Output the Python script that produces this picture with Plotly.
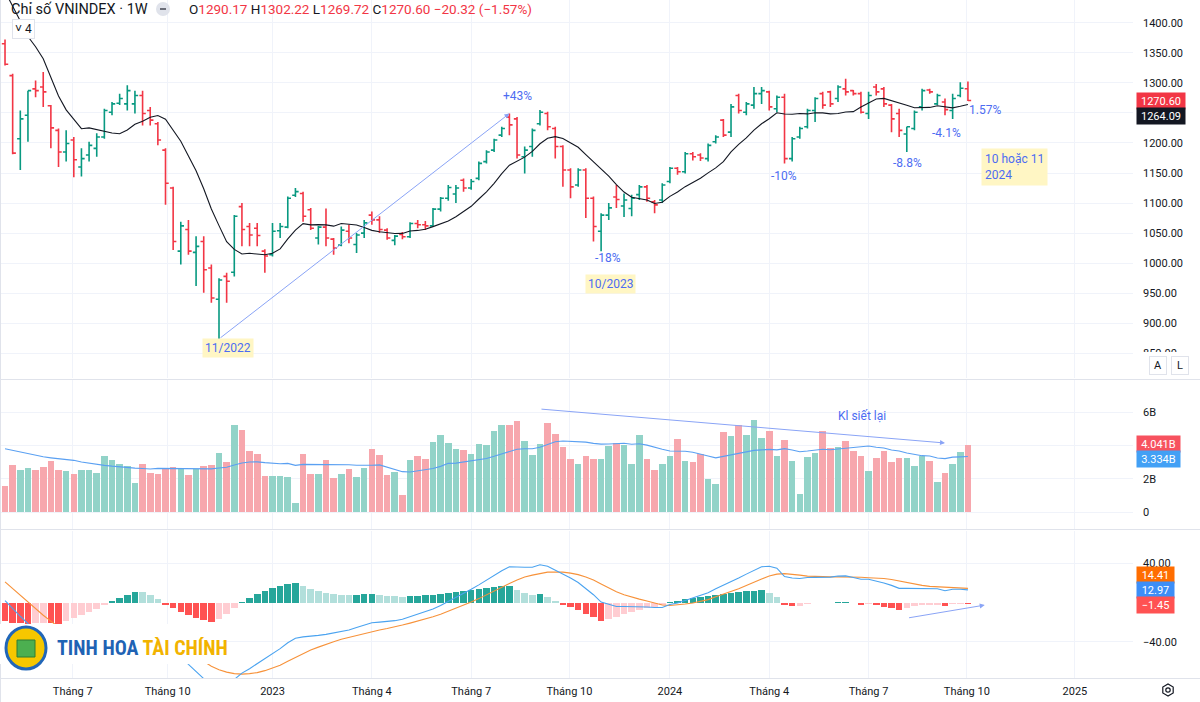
import math
import pandas as pd
import plotly.graph_objects as go

# ---------------- data ----------------
week_start = "2022-05-02"

opens = [1365, 1312, 1207, 1246, 1290, 1293, 1262, 1221, 1185, 1205,
         1160, 1180, 1191, 1210, 1251, 1266, 1265, 1265, 1279, 1254,
         1232, 1188, 1125, 1020, 1056, 1018, 1036, 992, 940, 978,
         985, 1094, 1061, 1058, 1020, 1014, 1054, 1060, 1113, 1116,
         1089, 1042, 1060, 1040, 1030, 1053, 1031, 1050, 1080, 1072,
         1055, 1038, 1048, 1044, 1066, 1064, 1062, 1090, 1108, 1115,
         1138, 1125, 1141, 1169, 1188, 1213, 1243, 1240, 1177, 1194,
         1232, 1249, 1224, 1194, 1155, 1130, 1155, 1108, 1053, 1080,
         1110, 1095, 1091, 1114, 1127, 1102, 1105, 1136, 1158, 1152,
         1182, 1180, 1174, 1202, 1238, 1218, 1279, 1251, 1263, 1282,
         1285, 1257, 1276, 1174, 1210, 1227, 1254, 1282, 1285, 1274,
         1290, 1287, 1282, 1249, 1293, 1290, 1263, 1249, 1215, 1224,
         1260, 1288, 1265, 1268, 1254, 1279, 1290.17]
highs = [1372, 1315, 1254, 1287, 1304, 1318, 1263, 1224, 1221, 1210,
         1191, 1202, 1216, 1257, 1268, 1282, 1296, 1287, 1287, 1260,
         1235, 1191, 1127, 1069, 1072, 1045, 1045, 998, 975, 984,
         1080, 1100, 1067, 1067, 1023, 1067, 1067, 1111, 1125, 1119,
         1092, 1062, 1091, 1042, 1061, 1064, 1050, 1072, 1086, 1078,
         1058, 1047, 1052, 1068, 1072, 1070, 1092, 1110, 1130, 1130,
         1141, 1140, 1169, 1188, 1207, 1227, 1249, 1243, 1194, 1224,
         1255, 1252, 1227, 1196, 1158, 1158, 1158, 1111, 1083, 1100,
         1130, 1116, 1114, 1130, 1130, 1105, 1133, 1160, 1160, 1185,
         1185, 1183, 1199, 1213, 1240, 1265, 1282, 1268, 1293, 1293,
         1287, 1279, 1282, 1210, 1227, 1257, 1276, 1285, 1287, 1296,
         1307, 1288, 1285, 1285, 1298, 1293, 1265, 1257, 1227, 1254,
         1290, 1290, 1282, 1274, 1282, 1301, 1302.22]
lows = [1329, 1181, 1155, 1202, 1276, 1260, 1191, 1160, 1169, 1143,
        1144, 1169, 1177, 1207, 1246, 1263, 1254, 1249, 1229, 1229,
        1196, 1097, 1022, 998, 1014, 962, 951, 934, 874, 934,
        978, 1028, 1028, 1028, 984, 1011, 1042, 1058, 1110, 1069,
        1055, 1031, 1028, 1014, 1028, 1033, 1017, 1042, 1064, 1050,
        1039, 1030, 1040, 1042, 1058, 1055, 1060, 1086, 1104, 1100,
        1119, 1122, 1138, 1166, 1185, 1210, 1213, 1174, 1149, 1177,
        1229, 1221, 1174, 1127, 1108, 1127, 1075, 1036, 1020, 1072,
        1092, 1077, 1078, 1105, 1102, 1083, 1100, 1133, 1147, 1149,
        1171, 1170, 1169, 1199, 1210, 1210, 1249, 1246, 1257, 1265,
        1254, 1251, 1166, 1169, 1207, 1224, 1235, 1257, 1260, 1268,
        1279, 1279, 1249, 1240, 1279, 1260, 1218, 1210, 1185, 1221,
        1254, 1282, 1263, 1246, 1240, 1276, 1269.72]
closes = [1331, 1183, 1240, 1287, 1287, 1285, 1225, 1185, 1199, 1172,
          1174, 1196, 1210, 1254, 1265, 1274, 1287, 1279, 1249, 1238,
          1205, 1133, 1036, 1062, 1020, 1028, 989, 942, 972, 970,
          1078, 1056, 1047, 1046, 1012, 1053, 1061, 1108, 1119, 1078,
          1058, 1060, 1042, 1025, 1055, 1042, 1047, 1067, 1072, 1056,
          1042, 1045, 1044, 1066, 1064, 1062, 1090, 1108, 1126, 1125,
          1125, 1136, 1166, 1185, 1205, 1224, 1230, 1180, 1188, 1221,
          1251, 1227, 1194, 1155, 1127, 1155, 1108, 1061, 1080, 1092,
          1106, 1105, 1108, 1127, 1108, 1097, 1130, 1158, 1152, 1182,
          1177, 1175, 1196, 1210, 1213, 1260, 1254, 1265, 1282, 1287,
          1260, 1276, 1174, 1207, 1224, 1254, 1274, 1263, 1265, 1293,
          1285, 1282, 1251, 1279, 1285, 1265, 1240, 1221, 1227, 1251,
          1287, 1285, 1279, 1255.4, 1274, 1290.92, 1270.60]

# weekly volume, billions of shares
volumes_b = [1.56, 2.85, 2.55, 2.67, 2.51, 2.71, 3.05, 2.55, 2.47, 2.26,
             2.51, 2.51, 2.34, 3.35, 3.11, 2.91, 2.75, 1.72, 2.87, 2.36,
             2.26, 2.67, 2.71, 2.61, 2.22, 2.61, 2.75, 2.81, 3.55, 3.01,
             5.21, 4.91, 3.65, 3.47, 2.18, 2.18, 2.18, 2.12, 0.56, 3.51,
             2.30, 2.26, 3.11, 2.06, 2.30, 2.57, 2.12, 2.65, 3.77, 3.41,
             2.22, 2.42, 1.02, 3.11, 3.35, 3.19, 4.19, 4.65, 4.17, 3.77,
             3.75, 3.47, 4.11, 4.01, 4.87, 5.21, 5.21, 5.47, 4.25, 3.41,
             4.11, 5.37, 4.67, 3.91, 3.19, 2.89, 3.35, 3.19, 3.19, 3.95,
             4.17, 4.01, 2.89, 4.61, 3.19, 2.51, 2.91, 3.35, 4.39, 3.05,
             3.01, 3.51, 1.98, 1.66, 4.83, 4.55, 5.25, 4.61, 5.55, 4.47,
             4.87, 3.39, 4.31, 3.05, 1.08, 3.31, 3.55, 4.85, 3.85, 3.91,
             4.25, 3.67, 3.35, 2.47, 3.27, 3.65, 2.99, 3.27, 3.23, 2.79,
             3.35, 3.05, 1.81, 2.36, 2.91, 3.61, 4.041]

# moving-average values visible before enough bars exist
price_ma_lead = [1452, 1428, 1403, 1377, 1360, 1340, 1310, 1278, 1255]
vol_ma_lead = [3.80, 3.70, 3.60, 3.50, 3.40, 3.31, 3.25, 3.20, 3.15, 3.10,
               3.00, 2.92, 2.85, 2.80, 2.75, 2.70, 2.66, 2.63, 2.61]

macd_signal = [21, 14, 7, 0, -7, -13, -19, -25, -30, -34,
               -37, -39.5, -41, -42, -42, -41.5, -40.5, -39, -37.5, -36.5,
               -36.5, -38, -41, -45, -50, -55, -60, -65, -68.5, -71,
               -72.5, -73, -72.5, -71.5, -69.5, -67, -64, -60, -56, -52,
               -48.5, -45.5, -42.5, -40, -37.5, -35.5, -33.5, -31.5, -29.6, -28,
               -26.5, -25, -23, -21, -19, -17, -14.5, -12, -9, -6,
               -3, 0.5, 4, 8, 12, 16, 19.5, 23, 26, 28,
               29.5, 31, 31.2, 31, 30, 28.5, 26, 23, 19, 15,
               11, 8, 5.5, 3.5, 1.5, -0.5, -2.5, -3, -2.5, -1.5,
               -0.5, 1, 3, 6, 8.5, 11, 14, 17.5, 21, 24,
               27, 29, 29.5, 29, 28, 27, 26.5, 26.3, 26.2, 26.2,
               26.2, 26, 25.8, 25.3, 25, 24.5, 23.5, 22, 20, 18.5,
               17.5, 16.5, 16, 15.5, 15, 14.6, 14.414]
macd_hist = [-19, -20.5, -21, -21.5, -21, -20.5, -21, -21.5, -19, -16,
             -13, -10, -7, -3, 2, 5, 8, 11, 10.5, 8,
             4, -2, -6, -10, -13, -15.5, -18, -20, -17, -12,
             -6, 1, 5, 9, 12, 15, 17, 19, 19.5, 17,
             14, 12, 10, 9, 8, 7.5, 8, 8.5, 9, 8,
             7, 6.5, 6, 6.5, 7, 7.5, 8, 9, 10, 11,
             12, 13, 14, 15, 16, 16.5, 17, 13, 10, 8,
             9, 6, 2, -2, -5, -8, -12, -15, -18.5, -17,
             -15, -12, -9.5, -7.5, -6, -4.5, -2.5, 1, 2, 3.5,
             5, 6, 7, 8, 9, 10, 11, 11.5, 12, 12.5,
             10, 6, -3, -4, -3.5, -1.5, -0.8, -0.5, -0.3, 0.8,
             1, -0.5, -2, -1.5, -3, -4.5, -6, -7.5, -5.5, -4,
             -3, -2.5, -2, -3.5, -1.5, -1, -1.448]

tick_dates = ["2022-07-03", "2022-09-28", "2023-01-02", "2023-04-03", "2023-07-03",
              "2023-10-01", "2024-01-01", "2024-04-01", "2024-07-01", "2024-09-29",
              "2025-01-06"]
tick_labels = ["Tháng 7", "Tháng 10", "2023", "Tháng 4", "Tháng 7", "Tháng 10",
               "2024", "Tháng 4", "Tháng 7", "Tháng 10", "2025"]

price_ticks = [850, 900, 950, 1000, 1050, 1100, 1150, 1200, 1250, 1300, 1350, 1400]
price_hidden_ticks = [1250]          # label sits under the price badges
vol_ticks = [0, 2, 4, 6]
vol_tick_labels = ["0", "2B", "", "6B"]  # 4B sits under the volume badges
macd_ticks = [-40, 40]
macd_tick_labels = ["\u221240.00", "40.00"]

# ---------------- derived series ----------------
dates = pd.date_range(week_start, periods=len(closes), freq="7D")
price_ma = pd.Series(closes).rolling(10).mean()
price_ma.iloc[:len(price_ma_lead)] = price_ma_lead
vol_ma = pd.Series(volumes_b).rolling(20).mean()
vol_ma.iloc[:len(vol_ma_lead)] = vol_ma_lead
macd_line = [s + h for s, h in zip(macd_signal, macd_hist)]

UP, DN = "#089981", "#f23645"
vol_colors = ["#92d3c8" if c >= o else "#f7a7ad" for o, c in zip(opens, closes)]
hist_colors = []
for k, h in enumerate(macd_hist):
    prev = macd_hist[k - 1] if k > 0 else h
    if h >= 0:
        hist_colors.append("#26a69a" if h > prev or k == 0 else "#b2dfdb")
    else:
        hist_colors.append("#ffcdd2" if h > prev else "#ff5252")

DAY_MS = 86400000
bar_w = 7 * DAY_MS * 0.86
t0 = pd.Timestamp(week_start)


def bx(idx):
    return t0 + pd.Timedelta(days=7 * idx)


# plot geometry helpers (paper coords)
PW, PH = 1133, 678


def px(p):
    return p / PW


def py(p):
    return 1 - p / PH


fig = go.Figure()
fig.add_trace(go.Ohlc(
    x=dates, open=opens, high=highs, low=lows, close=closes,
    increasing=dict(line=dict(color=UP, width=1.6)),
    decreasing=dict(line=dict(color=DN, width=1.6)),
    tickwidth=0.42, xaxis="x", yaxis="y", hoverinfo="skip"))
fig.add_trace(go.Scatter(x=dates, y=price_ma, mode="lines",
                         line=dict(color="#131722", width=1.1),
                         xaxis="x", yaxis="y", hoverinfo="skip"))
fig.add_trace(go.Bar(x=dates, y=volumes_b, marker=dict(color=vol_colors, line=dict(width=0)),
                     width=bar_w, xaxis="x2", yaxis="y2", hoverinfo="skip"))
fig.add_trace(go.Scatter(x=dates, y=vol_ma, mode="lines",
                         line=dict(color="#5aa0f2", width=1.1),
                         xaxis="x2", yaxis="y2", hoverinfo="skip"))
fig.add_trace(go.Bar(x=dates, y=macd_hist, marker=dict(color=hist_colors, line=dict(width=0)),
                     width=bar_w, xaxis="x3", yaxis="y3", hoverinfo="skip"))
fig.add_trace(go.Scatter(x=dates, y=macd_signal, mode="lines",
                         line=dict(color="#f7923a", width=1.1),
                         xaxis="x3", yaxis="y3", hoverinfo="skip"))
fig.add_trace(go.Scatter(x=dates, y=macd_line, mode="lines",
                         line=dict(color="#4aa3f0", width=1.1),
                         xaxis="x3", yaxis="y3", hoverinfo="skip"))

x_range = [t0 - pd.Timedelta(days=4.6), t0 + pd.Timedelta(days=1033.2)]
grid = "#f0f3fa"
tick_font = dict(family="Roboto, sans-serif", size=11, color="#131722")
xcommon = dict(type="date", range=x_range, showgrid=True, gridcolor=grid, gridwidth=1,
               tickvals=tick_dates, ticktext=tick_labels, zeroline=False,
               showline=False, ticks="", tickfont=tick_font, fixedrange=True)
ycommon = dict(side="right", showgrid=True, gridcolor=grid, gridwidth=1, zeroline=False,
               showline=False, ticks="", tickfont=tick_font, ticklabelstandoff=9,
               fixedrange=True)

fig.update_layout(
    width=1200, height=702,
    margin=dict(l=0, r=67, t=0, b=24),
    paper_bgcolor="white", plot_bgcolor="white",
    showlegend=False, hovermode=False, bargap=0,
    xaxis=dict(xcommon, anchor="y", showticklabels=False, rangeslider=dict(visible=False)),
    xaxis2=dict(xcommon, anchor="y2", showticklabels=False),
    xaxis3=dict(xcommon, anchor="y3", showticklabels=True, ticklabelstandoff=5),
    yaxis=dict(ycommon, anchor="x", domain=[1 - 378 / PH, 1], range=[809, 1437.8],
               tickvals=price_ticks,
               ticktext=["" if v in price_hidden_ticks else f"{v:.2f}" for v in price_ticks]),
    yaxis2=dict(ycommon, anchor="x2", domain=[1 - 529 / PH, 1 - 380 / PH], range=[-1.02, 7.92],
                tickvals=vol_ticks, ticktext=vol_tick_labels),
    yaxis3=dict(ycommon, anchor="x3", domain=[0, 1 - 531 / PH], range=[-77, 73],
                tickvals=macd_ticks, ticktext=macd_tick_labels),
)

ann = []
shapes = []
BLUE_TXT = "#4d6cf2"
YEL = "#fff6c4"
f12 = dict(family="Roboto, sans-serif", size=12, color=BLUE_TXT)

# trend arrow from the 11/2022 low to the 08/2023 top
low_i = lows.index(min(lows))
ann.append(dict(x=bx(66), y=1249, ax=bx(low_i), ay=min(lows), xref="x", yref="y",
                axref="x", ayref="y", showarrow=True, arrowhead=2, arrowsize=1,
                arrowwidth=1, arrowcolor="#8aa4f6", text=""))
ann.append(dict(x=bx(67.1), y=1278, xref="x", yref="y", text="+43%", showarrow=False, font=f12))
ann.append(dict(x=bx(29.2), y=859, xref="x", yref="y", text="11/2022", showarrow=False,
                font=f12, bgcolor=YEL, borderpad=2))
ann.append(dict(x=bx(78.9), y=1008, xref="x", yref="y", text="-18%", showarrow=False, font=f12))
ann.append(dict(x=bx(79.2), y=965, xref="x", yref="y", text="10/2023", showarrow=False,
                font=f12, bgcolor=YEL, borderpad=2))
ann.append(dict(x=bx(101.9), y=1145, xref="x", yref="y", text="-10%", showarrow=False, font=f12))
ann.append(dict(x=bx(118.1), y=1166.5, xref="x", yref="y", text="-8.8%", showarrow=False, font=f12))
ann.append(dict(x=bx(123.2), y=1216.5, xref="x", yref="y", text="-4.1%", showarrow=False, font=f12))
ann.append(dict(x=bx(128.2), y=1255, xref="x", yref="y", text="1.57%", showarrow=False, font=f12))
ann.append(dict(x=bx(127.75), y=1160, xref="x", yref="y", text="10 hoặc 11<br>2024",
                showarrow=False, font=f12, bgcolor=YEL, borderpad=3, xanchor="left", align="left"))

# volume annotation
ann.append(dict(x=bx(123), y=4.14, ax=bx(70), ay=6.18, xref="x2", yref="y2", axref="x2", ayref="y2",
                showarrow=True, arrowhead=2, arrowsize=1, arrowwidth=1, arrowcolor="#8aa4f6", text=""))
ann.append(dict(x=bx(112.1), y=5.76, xref="x2", yref="y2", text="Kl siết lại",
                showarrow=False, font=f12))
# macd arrow
ann.append(dict(x=bx(128.2), y=-2.6, ax=bx(118.1), ay=-15.8, xref="x3", yref="y3", axref="x3",
                ayref="y3", showarrow=True, arrowhead=2, arrowsize=1, arrowwidth=1,
                arrowcolor="#8aa4f6", text=""))

# header legend
chg = closes[-1] - closes[-2]
pct = chg / closes[-2] * 100
red = DN


def sp(v):
    return f"<span style='color:{red}'>{v}</span>"


ann.append(dict(x=px(9), y=py(9), xref="paper", yref="paper", xanchor="left", yanchor="middle",
                showarrow=False, text="Chỉ số VNINDEX · 1W",
                font=dict(family="Roboto, sans-serif", size=14.5, color="#131722")))
ohlc_txt = ("O" + sp(f"{opens[-1]:.2f}") + " H" + sp(f"{highs[-1]:.2f}") + " L" +
            sp(f"{lows[-1]:.2f}") + " C" + sp(f"{closes[-1]:.2f}") + " " +
            sp(f"\u2212{abs(chg):.2f} (\u2212{abs(pct):.2f}%)"))
ann.append(dict(x=px(187), y=py(9), xref="paper", yref="paper", xanchor="left", yanchor="middle",
                showarrow=False, text=ohlc_txt,
                font=dict(family="Roboto, sans-serif", size=13.5, color="#131722")))
shapes.append(dict(type="circle", xref="paper", yref="paper", x0=px(156), x1=px(170),
                   y0=py(16), y1=py(2), fillcolor="#e0e3eb", line=dict(width=0)))
shapes.append(dict(type="line", xref="paper", yref="paper", x0=px(160), x1=px(166),
                   y0=py(9), y1=py(9), line=dict(color="#6a6d78", width=2)))
ann.append(dict(x=px(23.5), y=py(29.5), xref="paper", yref="paper", showarrow=False,
                xanchor="center", yanchor="middle",
                text="\u02c5 4", font=dict(family="Roboto, sans-serif", size=12, color="#131722"),
                bordercolor="#e0e3eb", borderwidth=1, borderpad=2, bgcolor="white"))


# right-scale badges
def badge(text, ypx, color, wid):
    return dict(x=px(1136), y=py(ypx), xref="paper", yref="paper", xanchor="left",
                yanchor="middle", showarrow=False, text=text, bgcolor=color, width=wid,
                height=14, borderpad=1, align="center",
                font=dict(family="Roboto, sans-serif", size=11, color="white"))


shapes.append(dict(type="rect", xref="paper", yref="paper", x0=px(1134), x1=px(1200),
                   y0=py(378), y1=py(352), fillcolor="white", line=dict(width=0), layer="above"))
ann.append(badge(f"{closes[-1]:.2f}", 101, "#f23645", 46))
ann.append(badge(f"{price_ma.iloc[-1]:.2f}", 116, "#131722", 46))
ann.append(badge(f"{volumes_b[-1]:.3f}B", 444, "#f7525f", 41))
ann.append(badge(f"{vol_ma.iloc[-1]:.3f}B", 458.5, "#42a0f5", 41))
ann.append(badge(f"{macd_signal[-1]:.2f}", 575, "#ff6d00", 35))
ann.append(badge(f"{macd_line[-1]:.2f}", 590, "#3d8ef7", 35))
ann.append(badge(f"\u2212{abs(macd_hist[-1]):.2f}", 605, "#ff5252", 35))

for lbl, xp in (("A", 1158), ("L", 1180)):
    ann.append(dict(x=px(xp), y=py(366), xref="paper", yref="paper", showarrow=False, text=lbl,
                    xanchor="center", yanchor="middle",
                    font=dict(family="Roboto, sans-serif", size=11, color="#131722"),
                    bordercolor="#e0e3eb", borderwidth=1, borderpad=2, bgcolor="white",
                    width=12))

# pane separators
for ysep in (379.5, 529.5, 678.5):
    shapes.append(dict(type="line", xref="paper", yref="paper", x0=0, x1=px(1200),
                       y0=py(ysep), y1=py(ysep), line=dict(color="#e0e3eb", width=1)))
shapes.append(dict(type="line", xref="paper", yref="paper", x0=px(0.5), x1=px(0.5),
                   y0=py(0), y1=py(702), line=dict(color="#e0e3eb", width=1)))

# logo
shapes.append(dict(type="rect", xref="paper", yref="paper", x0=0, x1=px(222), y0=py(664), y1=py(624),
                   fillcolor="white", line=dict(width=0), layer="above"))
shapes.append(dict(type="circle", xref="paper", yref="paper", x0=px(6), x1=px(46), y0=py(669),
                   y1=py(627), fillcolor="#f6c700", line=dict(color="#2166b8", width=3), layer="above"))
shapes.append(dict(type="rect", xref="paper", yref="paper", x0=px(17), x1=px(35), y0=py(657),
                   y1=py(640), fillcolor="#4caf50", line=dict(color="#2e7d32", width=1), layer="above"))
ann.append(dict(x=px(55), y=py(648), xref="paper", yref="paper", xanchor="left", yanchor="middle",
                showarrow=False,
                text="<b><span style='color:#1f63b4'>TINH HOA </span><span style='color:#f2b300'>TÀI CHÍNH</span></b>",
                font=dict(family="Liberation Sans Narrow, Roboto Condensed, Arial Narrow, sans-serif", size=20)))

# settings hexagon at bottom right
hx, hy, r = 1168, 690, 6
pts = [(hx + r * math.cos(math.radians(90 + 60 * k)), hy + r * math.sin(math.radians(90 + 60 * k)))
       for k in range(6)]
path = "M " + " L ".join(f"{px(a)},{py(b)}" for a, b in pts) + " Z"
shapes.append(dict(type="path", xref="paper", yref="paper", path=path,
                   line=dict(color="#131722", width=1.2)))
shapes.append(dict(type="circle", xref="paper", yref="paper", x0=px(hx - 2.2), x1=px(hx + 2.2),
                   y0=py(hy + 2.2), y1=py(hy - 2.2), line=dict(color="#131722", width=1.2)))

fig.update_layout(annotations=ann, shapes=shapes)
fig.write_html("out.html",
               config={"displayModeBar": False, "staticPlot": True},
               post_script="document.body.style.margin='0px';document.body.style.overflow='hidden';")
